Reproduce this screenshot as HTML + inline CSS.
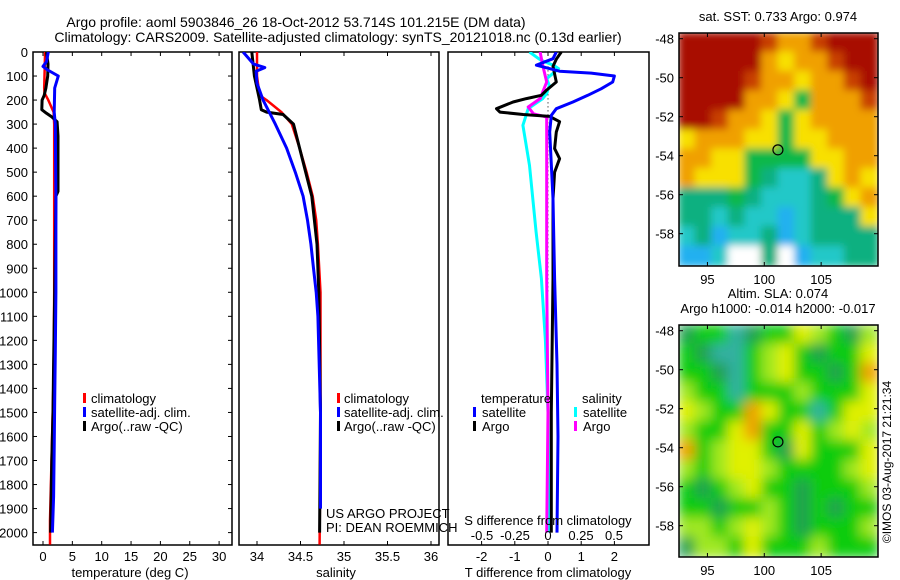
<!DOCTYPE html>
<html><head><meta charset="utf-8"><style>
html,body{margin:0;padding:0;background:#fff;}
svg{display:block;font-family:"Liberation Sans",sans-serif;}
text{fill:#000;}
</style></head><body>
<svg id="chart" width="900" height="580" viewBox="0 0 900 580" xmlns="http://www.w3.org/2000/svg">
<defs>
<clipPath id="cp1"><rect x="33" y="52" width="199" height="493"/></clipPath>
<clipPath id="cp2"><rect x="239" y="52" width="200" height="493"/></clipPath>
<clipPath id="cp3"><rect x="448" y="52" width="201" height="493"/></clipPath>
<clipPath id="cm1"><rect x="679" y="33" width="199" height="233"/></clipPath>
<clipPath id="cm2"><rect x="679" y="325" width="199" height="232"/></clipPath>
<filter id="bl1" x="-5%" y="-5%" width="110%" height="110%"><feGaussianBlur stdDeviation="4"/></filter>
<filter id="bl2" x="-5%" y="-5%" width="110%" height="110%"><feGaussianBlur stdDeviation="6"/></filter>
</defs>
<text x="296" y="27" font-size="14" text-anchor="middle">Argo profile: aoml 5903846_26 18-Oct-2012 53.714S 101.215E (DM data)</text>
<text x="338" y="42" font-size="14" text-anchor="middle">Climatology: CARS2009. Satellite-adjusted climatology: synTS_20121018.nc (0.13d earlier)</text>
<g id="g1"></g>
<g id="g2"></g>
<g id="g3"></g>
<g id="gm"></g>
<text transform="translate(891,462) rotate(-90)" font-size="12" text-anchor="middle">©IMOS 03-Aug-2017 21:21:34</text>
</svg>
<script>
// ---- data ----
const depthTicks = [0,100,200,300,400,500,600,700,800,900,1000,1100,1200,1300,1400,1500,1600,1700,1800,1900,2000];
const tempTicks = [0,5,10,15,20,25,30];
const salTicks = [34,34.5,35,35.5,36];
const tdiffTicks = [-2,-1,0,1,2];
const sdiffTicks = [-0.5,-0.25,0,0.25,0.5];
const sdiffLabels = ["-0.5","-0.25","0","0.25","0.5"];

const climTDepth = [0,50,100,150,170,200,250,300,600,1000,1350,1550,1750,1950,2050];
const climTVal   = [0.35,0.3,0.25,0.2,0.25,0.9,1.8,1.9,1.9,1.9,1.8,1.6,1.4,1.2,1.2];
const satTDepth  = [0,40,60,75,100,150,250,300,600,1000,1250,1450,1650,1850,2000];
const satTVal    = [0.9,0.6,0.0,0.8,2.6,2.0,1.9,2.1,2.2,2.2,2.1,2.0,1.9,1.8,1.6];
const argoTDepth = [0,50,100,150,180,200,240,255,270,290,350,500,580,600,1000,1300,1500,1700,2000];
const argoTVal   = [0.6,0.85,0.8,0.5,0.2,-0.15,-0.2,0.6,1.5,2.4,2.55,2.55,2.55,2.2,2.0,1.8,1.7,1.5,1.3];

const climSDepth = [0,100,180,200,250,300,400,500,600,700,800,1000,1500,2050];
const climSVal   = [34.0,34.0,34.03,34.11,34.28,34.40,34.49,34.57,34.64,34.68,34.70,34.73,34.73,34.72];
const satSDepth  = [0,50,65,80,130,200,300,400,500,600,700,800,900,1000,1100,1500,1900];
const satSVal    = [33.84,33.96,34.09,33.99,34.0,34.07,34.21,34.34,34.44,34.53,34.58,34.62,34.65,34.68,34.70,34.73,34.73];
const argoSDepth = [0,100,200,240,250,260,300,400,500,600,800,1000,1500,2000];
const argoSVal   = [33.94,33.97,34.03,34.05,34.11,34.30,34.42,34.49,34.56,34.63,34.69,34.71,34.73,34.72];

const satTdDepth = [0,28,55,80,88,100,125,153,180,208,236,264,333,610,943,1300,1600,2000];
const satTdVal   = [0.25,0.15,-0.35,0.35,1.3,2.0,1.95,1.6,1.2,0.75,0.25,0.1,0.05,0.15,0.2,0.27,0.3,0.27];
const argoTdDepth = [0,30,60,125,160,180,194,208,236,250,260,268,290,333,402,444,500,610,943,1500,2000];
const argoTdVal   = [0.4,0.25,0.15,0.25,-0.05,-0.2,-0.65,-1.05,-1.55,-1.45,-0.75,0.05,0.35,0.25,0.2,0.35,0.2,0.15,0.15,0.1,0.1];
const satSdDepth = [0,32,55,69,111,139,173,194,236,305,472,749,943,1200,1500,2000];
const satSdVal   = [-0.14,-0.06,0.04,0.08,-0.01,0.01,-0.01,-0.04,-0.15,-0.19,-0.14,-0.09,-0.05,-0.02,0.0,0.005];
const argoSdDepth = [0,55,125,194,229,257,271,333,610,943,1500,2000];
const argoSdVal   = [-0.06,-0.04,-0.01,-0.06,-0.15,-0.11,-0.01,-0.01,-0.01,-0.01,0.0,-0.01];

const latTicks = [-48,-50,-52,-54,-56,-58];
const lonTicks = [95,100,105];
const argoLon = 101.2, argoLat = -53.7;
const sstRows = [
"RRRRRrOOrRRR","RRRRROYOOrRR","RRRRrOOYOOrR","RRRROOYGOOOr","RRrOOYGYOOOO",
"YOOOYYGYYOOO","OOYYGGGGYYOO","OYYYGgCCgYOY","gggGgCCCgGYO","ggCgCCBCgggY",
"CgBCCgBCgggg","BBCWWgWBCCgg"];
const slaRows = [
"DGGTDGGYLGDL","GDTTGLYGDGGY","GGDTGLYGGDGO","LGGTGGGLGGGY","YLGGOYGGTGYY",
"LGGYOGGYGLYL","OGLYYGDYGGGY","LGLYYLGGGGLY","GDGLYGGDGGGL","GGDGGLGDGDGG",
"LLGLYLGDGGGL","DLLGYGGGLGGG"];

// ---- helpers ----
const NS = "http://www.w3.org/2000/svg";
function mk(tag, attrs, parent){const e=document.createElementNS(NS,tag);for(const k in attrs)e.setAttribute(k,attrs[k]);parent.appendChild(e);return e;}
const yD = d => 52 + d*0.2403;
const xT = t => 43 + t*5.87;
const xS = s => 257 + (s-34)*87;
const xTd = t => 548 + t*33.2;
const xSd = s => 548 + s*132;
const TOP=52, BOT=545;

function frame(g, x0, x1, name){
  const r = mk('rect',{x:x0,y:TOP,width:x1-x0,height:BOT-TOP,fill:'none',stroke:'#000','stroke-width':1.5},g);
  
  
}
function xticks(g, ticks, fx, labels, ly, name){
  ticks.forEach((t,i)=>{
    const x=fx(t);
    mk('line',{x1:x,x2:x,y1:TOP,y2:TOP+4,stroke:'#000'},g);
    mk('line',{x1:x,x2:x,y1:BOT,y2:BOT-4,stroke:'#000'},g);
    if(labels){
      const tx=mk('text',{x:x,y:ly,'font-size':13,'text-anchor':'middle'},g);
      tx.textContent=labels[i];
      
      
    }
  });
}
function line(g, ds, vs, fx, color, w, clip, name){
  const pts = ds.map((d,i)=>fx(vs[i]).toFixed(1)+','+yD(d).toFixed(1)).join(' ');
  const p = mk('polyline',{points:pts,fill:'none',stroke:color,'stroke-width':w,'stroke-linejoin':'round','clip-path':'url(#'+clip+')'},g);
  
  
}
function label(g,x,y,txt,name,anchor){
  const t=mk('text',{x:x,y:y,'font-size':13,'text-anchor':anchor||'start'},g);
  t.textContent=txt;
  
  
  return t;
}
function legendMark(g,x,y,color,name){
  const r=mk('rect',{x:x,y:y-10,width:3,height:10,fill:color},g);
  
  
}

// ---- panel 1 ----
const g1=document.getElementById('g1');
frame(g1,33,232,'temperature-frame');
depthTicks.forEach(d=>{
  const y=yD(d);
  mk('line',{x1:33,x2:37,y1:y,y2:y,stroke:'#000'},g1);
  mk('line',{x1:232,x2:228,y1:y,y2:y,stroke:'#000'},g1);
  label(g1,28,y+5,String(d),'depth-tick-label','end');
});
xticks(g1,tempTicks,xT,tempTicks.map(String),561,'temperature');
line(g1,climTDepth,climTVal,xT,'#ff0000',2.5,'cp1','temperature-climatology-line');
line(g1,argoTDepth,argoTVal,xT,'#000000',3,'cp1','temperature-argo-line');
line(g1,satTDepth,satTVal,xT,'#0000ff',3,'cp1','temperature-satellite-line');
label(g1,130,577,'temperature (deg C)','temperature-axis-title','middle');
[['#ff0000','climatology'],['#0000ff','satellite-adj. clim.'],['#000000','Argo(..raw -QC)']].forEach((e,i)=>{
  legendMark(g1,83,403+i*14,e[0],'legend-marker');
  label(g1,91,403+i*14,e[1],'legend-entry');
});

// ---- panel 2 ----
const g2=document.getElementById('g2');
frame(g2,239,439,'salinity-frame');
xticks(g2,salTicks,xS,salTicks.map(String),561,'salinity');
line(g2,climSDepth,climSVal,xS,'#ff0000',2.5,'cp2','salinity-climatology-line');
line(g2,argoSDepth,argoSVal,xS,'#000000',3,'cp2','salinity-argo-line');
line(g2,satSDepth,satSVal,xS,'#0000ff',3,'cp2','salinity-satellite-line');
label(g2,336,577,'salinity','salinity-axis-title','middle');
[['#ff0000','climatology'],['#0000ff','satellite-adj. clim.'],['#000000','Argo(..raw -QC)']].forEach((e,i)=>{
  legendMark(g2,337,403+i*14,e[0],'legend-marker');
  label(g2,344,403+i*14,e[1],'legend-entry');
});
label(g2,326,518,'US ARGO PROJECT','us-argo-credit');
label(g2,326,532,'PI: DEAN ROEMMICH','pi-credit');

// ---- panel 3 ----
const g3=document.getElementById('g3');
frame(g3,448,649,'difference-frame');
xticks(g3,tdiffTicks,xTd,tdiffTicks.map(String),561,'t-difference');
mk('line',{x1:548,x2:548,y1:yD(60),y2:yD(1000),stroke:'#000','stroke-dasharray':'1,3'},g3);
line(g3,satSdDepth,satSdVal,xSd,'#00ffff',3,'cp3','salinity-satellite-diff-line');
line(g3,argoSdDepth,argoSdVal,xSd,'#ff00ff',3,'cp3','salinity-argo-diff-line');
line(g3,argoTdDepth,argoTdVal,xTd,'#000000',3,'cp3','temperature-argo-diff-line');
line(g3,satTdDepth,satTdVal,xTd,'#0000ff',3,'cp3','temperature-satellite-diff-line');
label(g3,548,525,'S difference from climatology','s-difference-title','middle');
sdiffTicks.forEach((s,i)=>label(g3,xSd(s),540,sdiffLabels[i],'s-difference-tick-label','middle'));
label(g3,548,577,'T difference from climatology','t-difference-title','middle');
label(g3,481,403,'temperature','legend-heading-temperature');
label(g3,582,403,'salinity','legend-heading-salinity');
legendMark(g3,473,417,'#0000ff','legend-marker'); label(g3,482,417,'satellite','legend-entry');
legendMark(g3,473,431,'#000000','legend-marker'); label(g3,482,431,'Argo','legend-entry');
legendMark(g3,574,417,'#00ffff','legend-marker'); label(g3,583,417,'satellite','legend-entry');
legendMark(g3,574,431,'#ff00ff','legend-marker'); label(g3,583,431,'Argo','legend-entry');

// ---- maps ----
const gm=document.getElementById('gm');
const MX0=679, MX1=878, LON0=92.5, LON1=110;
const xLon = l => MX0 + (l-LON0)*(MX1-MX0)/(LON1-LON0);
const sstColors={R:'#a81000',r:'#c84000',O:'#f0a000',Y:'#f8e000',G:'#10b848',g:'#10b080',C:'#20c8c8',B:'#20b0f0',W:'#ffffff'};
const slaColors={G:'#10cc10',D:'#20a050',T:'#30b0a0',Y:'#e0f000',L:'#a0e820',O:'#f0a000'};
function drawMap(top,bot,rows,colors,clip,filt,title1,title2,name){
  const yLat = la => top + 5.7 + (-48-la)*19.5;
  const g=mk('g',{},gm);
  
  
  const mg=mk('g',{'clip-path':'url(#'+clip+')'},g);
  const inner=mk('g',{filter:'url(#'+filt+')'},mg);
  const nr=rows.length, nc=rows[0].length;
  const cw=(MX1-MX0)/nc, ch=(bot-top)/nr;
  rows.forEach((row,r)=>{for(let c=0;c<nc;c++){
    mk('rect',{x:MX0+c*cw-1,y:top+r*ch-1,width:cw+2,height:ch+2,fill:colors[row[c]]},inner);
  }});
  const fr=mk('rect',{x:MX0,y:top,width:MX1-MX0,height:bot-top,fill:'none',stroke:'#000','stroke-width':1.5},g);
  
  
  latTicks.forEach(la=>{
    const y=yLat(la);
    mk('line',{x1:MX0,x2:MX0+4,y1:y,y2:y,stroke:'#000'},g);
    mk('line',{x1:MX1,x2:MX1-4,y1:y,y2:y,stroke:'#000'},g);
    label(g,674,y+5,String(la),'latitude-tick-label','end');
  });
  lonTicks.forEach(lo=>{
    const x=xLon(lo);
    mk('line',{x1:x,x2:x,y1:top,y2:top+4,stroke:'#000'},g);
    mk('line',{x1:x,x2:x,y1:bot,y2:bot-4,stroke:'#000'},g);
    label(g,x,bot+18,String(lo),'longitude-tick-label','middle');
  });
  const c=mk('ellipse',{cx:xLon(argoLon),cy:yLat(argoLat),rx:5,ry:5,fill:'none',stroke:'#000','stroke-width':1.2},g);
  
  
  if(title2){
    label(g,778,top-27,title1,name+'-title','middle');
    label(g,778,top-12,title2,name+'-subtitle','middle');
  } else label(g,778,top-12,title1,name+'-title','middle');
}
drawMap(33,266,sstRows,sstColors,'cm1','bl1','sat. SST: 0.733 Argo: 0.974',null,'sst-map');
drawMap(325,557,slaRows,slaColors,'cm2','bl2','Altim. SLA: 0.074','Argo h1000: -0.014 h2000: -0.017','sla-map');
</script>
</body></html>
